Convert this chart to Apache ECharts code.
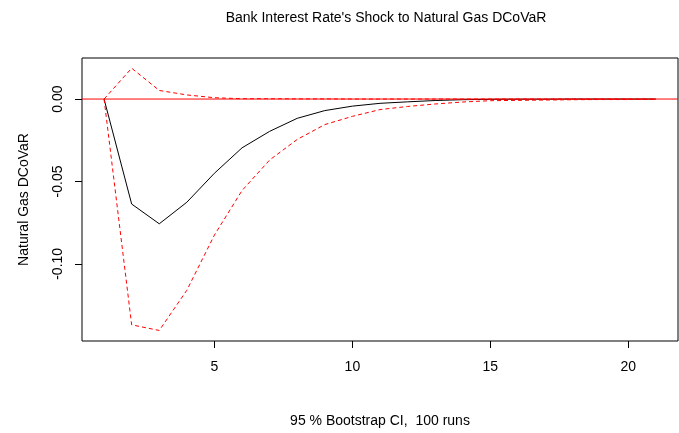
<!DOCTYPE html>
<html>
<head>
<meta charset="utf-8">
<script src="https://cdn.jsdelivr.net/npm/echarts@6/dist/echarts.min.js"></script>
<style>
  html, body { margin: 0; padding: 0; background: #fff; }
  #chart { width: 679px; height: 433px; }
</style>
</head>
<body>
<div id="chart"></div>
<script>
// Impulse response horizon (steps after the shock)
const steps = [1, 2, 3, 4, 5, 6, 7, 8, 9, 10, 11, 12, 13, 14, 15, 16, 17, 18, 19, 20, 21];

// Response of Natural Gas DCoVaR to a Bank Interest Rate shock
const response = [0, -0.0637, -0.0757, -0.0626, -0.0450, -0.0296, -0.0196, -0.0117, -0.0070, -0.0043,
  -0.0026, -0.0017, -0.0009, -0.0004, -0.0002, -0.0001, -0.0001, 0, 0, 0, 0];

// 95 % bootstrap confidence band (100 runs)
const upperBand = [0, 0.0187, 0.0052, 0.0025, 0.0008, 0.0002, 0.0002, 0.0001, 0.0001, 0,
  0, 0, 0, 0, 0, 0, 0, 0, 0, 0, 0];
const lowerBand = [0, -0.1370, -0.1404, -0.1160, -0.0825, -0.0555, -0.0370, -0.0245, -0.0155, -0.0105,
  -0.0064, -0.0045, -0.0030, -0.0018, -0.0010, -0.0008, -0.0006, -0.0004, -0.0003, -0.0003, -0.0002];

// Tick positions
const xTicks = [5, 10, 15, 20];
const yTicks = [0, -0.05, -0.10];

// Axis ranges
const xRange = [0.2, 21.8];
const yRange = [-0.1468, 0.0249];

const pairs = vals => steps.map((s, i) => [s, vals[i]]);
const font = 'Liberation Sans, Arial, sans-serif';
const RED = '#ff0000';

const chart = echarts.init(document.getElementById('chart'));
chart.setOption({
  animation: false,
  backgroundColor: '#ffffff',
  title: {
    text: "Bank Interest Rate's Shock to Natural Gas DCoVaR",
    left: 381, top: 6, textAlign: 'center',
    textStyle: { fontFamily: font, fontSize: 14, fontWeight: 'normal', color: '#000' }
  },
  grid: {
    left: 82, right: 1, top: 58, bottom: 90,
    show: true, borderColor: '#000', borderWidth: 1, backgroundColor: 'transparent'
  },
  xAxis: {
    type: 'value',
    min: xRange[0], max: xRange[1],
    name: '95 % Bootstrap CI,  100 runs',
    nameLocation: 'middle', nameGap: 73,
    nameTextStyle: { fontFamily: font, fontSize: 14, color: '#000' },
    axisLine: { show: false, onZero: false },
    splitLine: { show: false },
    axisTick: { show: true, length: 7, customValues: xTicks, lineStyle: { color: '#000' } },
    axisLabel: {
      customValues: xTicks, margin: 19,
      fontFamily: font, fontSize: 14, color: '#000'
    }
  },
  yAxis: {
    type: 'value',
    min: yRange[0], max: yRange[1],
    name: 'Natural Gas DCoVaR',
    nameLocation: 'middle', nameGap: 51, nameRotate: 90,
    nameTextStyle: { fontFamily: font, fontSize: 14, color: '#000' },
    axisLine: { show: false, onZero: false },
    splitLine: { show: false },
    axisTick: { show: true, length: 7, customValues: yTicks, lineStyle: { color: '#000' } },
    axisLabel: {
      customValues: yTicks, rotate: 90, margin: 17,
      fontFamily: font, fontSize: 14, color: '#000',
      formatter: v => v.toFixed(2)
    }
  },
  series: [
    {
      name: 'response', type: 'line', data: pairs(response),
      symbol: 'none', lineStyle: { color: '#000', width: 1 }, z: 2
    },
    {
      name: 'upper', type: 'line', data: pairs(upperBand),
      symbol: 'none', itemStyle: { color: RED },
      lineStyle: { color: RED, width: 1, type: [4, 3] }, z: 3
    },
    {
      name: 'lower', type: 'line', data: pairs(lowerBand),
      symbol: 'none', itemStyle: { color: RED },
      lineStyle: { color: RED, width: 1, type: [4, 3] }, z: 3
    },
    {
      // zero reference line spanning the plot
      name: 'zero', type: 'line', data: [[xRange[0], 0], [xRange[1], 0]],
      symbol: 'none', silent: true, itemStyle: { color: RED },
      lineStyle: { color: RED, width: 1, type: 'solid' }, z: 4
    }
  ]
});
</script>
</body>
</html>
